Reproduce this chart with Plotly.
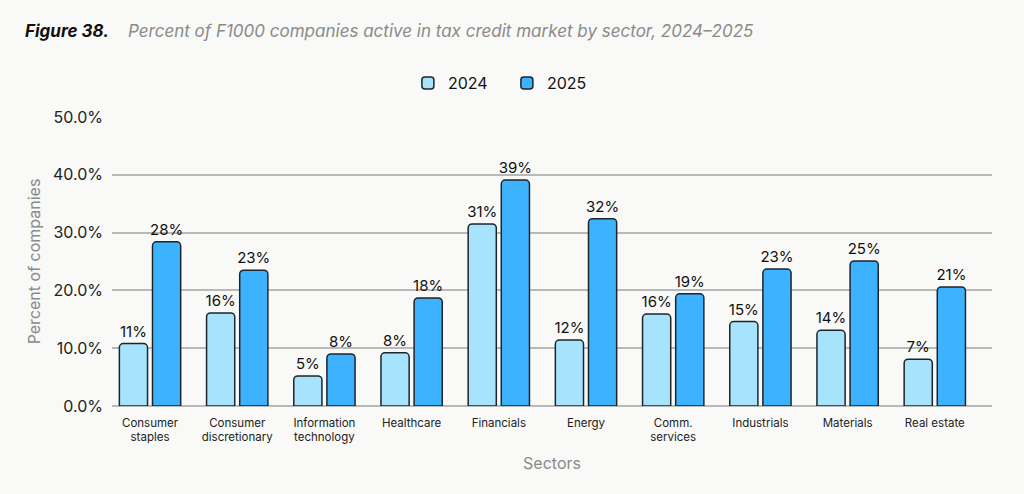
import plotly.graph_objects as go

# sectors on the x axis (two-line labels as in the figure)
sectors = ["Consumer<br>staples", "Consumer<br>discretionary", "Information<br>technology",
           "Healthcare", "Financials", "Energy", "Comm.<br>services", "Industrials",
           "Materials", "Real estate"]

# share of companies, percent
pct_2024 = [10.8, 16.1, 5.2, 9.2, 31.5, 11.4, 15.9, 14.6, 13.1, 8.1]
pct_2025 = [28.4, 23.5, 9.0, 18.7, 39.1, 32.4, 19.4, 23.7, 25.1, 20.6]

# the data labels printed above the bars
labels_2024 = ["11%", "16%", "5%", "8%", "31%", "12%", "16%", "15%", "14%", "7%"]
labels_2025 = ["28%", "23%", "8%", "18%", "39%", "32%", "19%", "23%", "25%", "21%"]

font_name = "Inter"
bg = "#f9f9f8"
outline = dict(color="#1c252b", width=1.5)

W, H = 1024, 494

fig = go.Figure()
fig.add_trace(go.Bar(
    x=sectors, y=pct_2024, name="2024",
    marker=dict(color="#a8e3fd", line=outline),
    text=labels_2024, textposition="outside", cliponaxis=False, constraintext="none",
    textfont=dict(size=15, color="#111111", family=font_name),
))
fig.add_trace(go.Bar(
    x=sectors, y=pct_2025, name="2025",
    marker=dict(color="#3db3ff", line=outline),
    text=labels_2025, textposition="outside", cliponaxis=False, constraintext="none",
    textfont=dict(size=15, color="#111111", family=font_name),
))

fig.update_layout(
    width=W, height=H,
    paper_bgcolor=bg, plot_bgcolor=bg,
    font=dict(family=font_name, color="#222222"),
    barmode="group", bargap=0.24, bargroupgap=0.15, barcornerradius=4,
    margin=dict(l=112, r=32, t=117, b=88, autoexpand=False),
    title=dict(
        text="<b><i>Figure 38.</i></b>    <i><span style='color:#8a8a8a'>Percent of F1000 companies active in tax credit market by sector, 2024\u20132025</span></i>",
        x=25 / W, xref="container", xanchor="left",
        y=1 - 31 / H, yref="container", yanchor="middle",
        font=dict(size=17, color="#111111", family=font_name),
    ),
    legend=dict(
        orientation="h", xref="container", x=0.495, xanchor="center",
        yref="container", y=1 - 83 / H, yanchor="middle",
        font=dict(size=16, color="#111111"), traceorder="normal",
        itemwidth=30, entrywidth=54,
    ),
    showlegend=True,
)

fig.update_xaxes(
    range=[-0.436, 9.656], showgrid=False, showline=False, ticks="", automargin=False,
    ticklabelstandoff=8,
    tickfont=dict(size=11.5, color="#222222"),
    title=dict(text="Sectors", font=dict(size=16, color="#8a8a8a"), standoff=14),
)
fig.update_yaxes(
    range=[0, 50], dtick=10, ticksuffix="%", tickformat=".1f", automargin=False,
    showgrid=True, gridcolor="#b9b9b9", gridwidth=2,
    zeroline=True, zerolinecolor="#b9b9b9", zerolinewidth=2,
    showline=False, ticks="", ticklabelstandoff=8,
    tickfont=dict(size=16, color="#222222"),
    title=dict(text="Percent of companies", font=dict(size=16, color="#8a8a8a"), standoff=8),
)

# drop the browser's default 8px body margin so the figure fills the window
fig.write_html("out.html", config={"displayModeBar": False},
               post_script="document.body.style.margin='0';document.body.style.background='%s';" % bg)
